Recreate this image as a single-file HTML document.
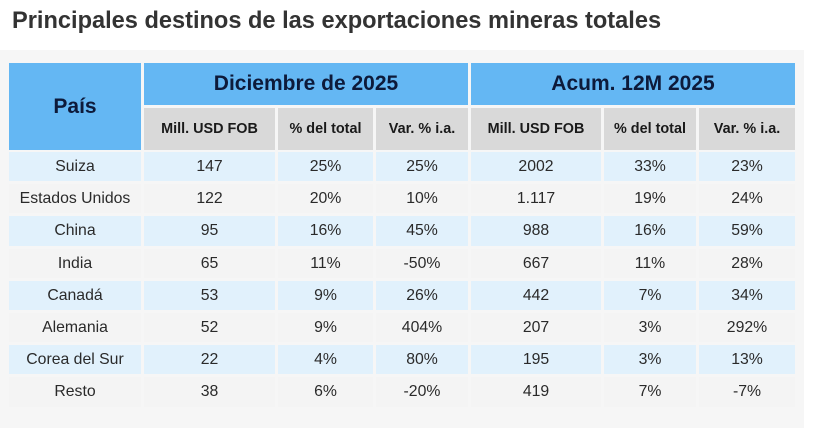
<!DOCTYPE html>
<html><head><meta charset="utf-8"><style>
body{margin:0;width:815px;height:428px;background:#fff;position:relative;overflow:hidden;font-family:"Liberation Sans",sans-serif;}
.t{position:absolute;left:12px;top:8px;font-size:23.6px;font-weight:bold;color:#333;white-space:nowrap;}
.panel{position:absolute;left:0;top:50px;width:804px;height:378px;background:#f6f6f6;}
.c{position:absolute;display:flex;align-items:center;justify-content:center;white-space:nowrap;}
.h{background:#64b7f3;color:#0d1a3a;font-weight:bold;font-size:21px;}
.s{background:#d9d9d9;color:#1a1a1a;font-weight:bold;font-size:14.4px;}
.d{font-size:15.8px;color:#2a2a2a;}
</style></head><body>
<div class="t">Principales destinos de las exportaciones mineras totales</div>
<div class="panel"></div>
<div id="g"></div>
<script>
var cols=[[9,141],[144,275],[278,373],[376,468],[471,601],[604,696],[699,795]];
var h='';
function cell(x1,x2,y1,y2,cls,txt,bg){h+='<div class="c '+cls+'" style="left:'+x1+'px;width:'+(x2-x1)+'px;top:'+y1+'px;height:'+(y2-y1)+'px;'+(bg?'background:'+bg:'')+'">'+txt+'</div>';}
cell(9,141,63,150,'h','País');
cell(144,468,63,105,'h','Diciembre de 2025');
cell(471,795,63,105,'h','Acum. 12M 2025');
var sub=['Mill. USD FOB','% del total','Var. % i.a.','Mill. USD FOB','% del total','Var. % i.a.'];
for(var i=0;i<6;i++)cell(cols[i+1][0],cols[i+1][1],108,150,'s',sub[i]);
var rows=[['Suiza','147','25%','25%','2002','33%','23%'],['Estados Unidos','122','20%','10%','1.117','19%','24%'],['China','95','16%','45%','988','16%','59%'],['India','65','11%','-50%','667','11%','28%'],['Canadá','53','9%','26%','442','7%','34%'],['Alemania','52','9%','404%','207','3%','292%'],['Corea del Sur','22','4%','80%','195','3%','13%'],['Resto','38','6%','-20%','419','7%','-7%']];
for(var r=0;r<8;r++){var y1=Math.round(152+r*32.2),y2=Math.round(152+(r+1)*32.2)-3;
 var bg=r%2==0?'#e1f1fc':'#f4f4f4';
 for(var c=0;c<7;c++)cell(cols[c][0],cols[c][1],y1,y2,'d',rows[r][c],bg);}
document.getElementById('g').innerHTML=h;
</script>
</body></html>
